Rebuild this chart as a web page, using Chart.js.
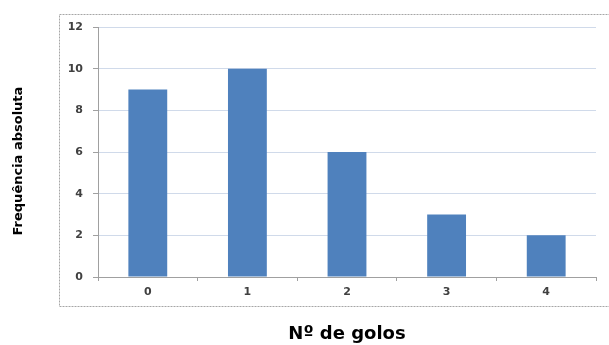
<!DOCTYPE html>
<html>
<head>
<meta charset="utf-8">
<script src="https://cdn.jsdelivr.net/npm/chart.js@4/dist/chart.umd.min.js"></script>
<style>
  html, body { margin: 0; padding: 0; background: #ffffff; }
  #wrap { width: 609px; height: 345px; position: relative; }
</style>
</head>
<body>
<div id="wrap"><canvas id="c" width="609" height="345"></canvas></div>
<script>
const categories = ['0', '1', '2', '3', '4'];
const frequencies = [9, 10, 6, 3, 2];
const yTicks = [0, 2, 4, 6, 8, 10, 12];
const xTitle = 'Nº de golos';
const yTitle = 'Frequência absoluta';

const frameBox = {
  id: 'frameBox',
  beforeDraw(chart) {
    const ctx = chart.ctx;
    ctx.save();
    ctx.fillStyle = '#ffffff';
    ctx.fillRect(0, 0, chart.width, chart.height);
    ctx.strokeStyle = '#a6a6a6';
    ctx.lineWidth = 1;
    ctx.setLineDash([2, 1]);
    ctx.strokeRect(59.5, 14.5, 620, 292);
    ctx.restore();
  }
};

new Chart(document.getElementById('c'), {
  type: 'bar',
  data: {
    labels: categories,
    datasets: [{
      data: frequencies,
      backgroundColor: '#4f81bd',
      borderWidth: 0,
      categoryPercentage: 1,
      barPercentage: 0.39
    }]
  },
  plugins: [frameBox],
  options: {
    responsive: false,
    animation: false,
    devicePixelRatio: 1,
    layout: { padding: { top: 27, right: 13, bottom: 0, left: 0 } },
    plugins: { legend: { display: false }, tooltip: { enabled: false } },
    scales: {
      x: {
        grid: { display: true, drawOnChartArea: false, drawTicks: true, tickLength: 4, color: '#a0a0a0', offset: true },
        border: { display: true, color: '#a0a0a0' },
        ticks: { color: '#404040', font: { family: 'DejaVu Sans', size: 11, weight: 'bold' }, padding: 5 },
        title: { display: true, text: xTitle, color: '#000000', font: { family: 'DejaVu Sans', size: 18, weight: 'bold' }, padding: { top: 0, bottom: 0 } },
        afterFit(scale) { scale.height = 68; scale.paddingLeft = 0; scale.paddingRight = 0; }
      },
      y: {
        min: 0,
        max: 12,
        afterBuildTicks(scale) { scale.ticks = yTicks.map(v => ({ value: v })); },
        grid: { color: '#d0daea', tickColor: '#a0a0a0', tickLength: 5, drawTicks: true },
        border: { display: true, color: '#a0a0a0' },
        ticks: { color: '#404040', font: { family: 'DejaVu Sans', size: 11, weight: 'bold' }, padding: 10 },
        title: { display: true, text: yTitle + '    ', color: '#000000', font: { family: 'DejaVu Sans', size: 13, weight: 'bold' }, padding: { top: 11, bottom: 0 } },
        afterFit(scale) { scale.width = 98; scale.paddingTop = 0; scale.paddingBottom = 0; }
      }
    }
  }
});
</script>
</body>
</html>
